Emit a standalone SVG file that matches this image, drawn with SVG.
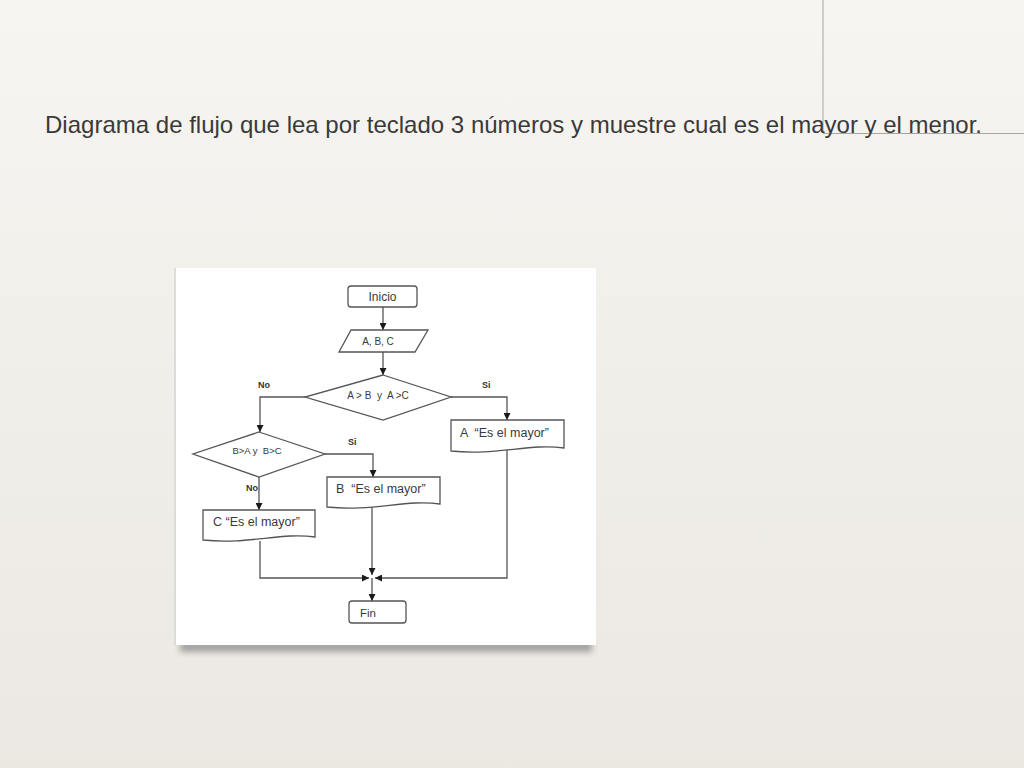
<svg xmlns="http://www.w3.org/2000/svg" width="1024" height="768" viewBox="0 0 1024 768">
  <defs>
    <linearGradient id="bg" x1="0" y1="0" x2="0" y2="1">
      <stop offset="0" stop-color="#f7f5f1"/>
      <stop offset="1" stop-color="#ebe8e2"/>
    </linearGradient>
    <filter id="blur" x="-10%" y="-50%" width="120%" height="200%">
      <feGaussianBlur stdDeviation="3"/>
    </filter>
    <marker id="ah" viewBox="0 0 10 10" refX="10" refY="5" markerWidth="8" markerHeight="7" markerUnits="userSpaceOnUse" orient="auto">
      <path d="M0,0 L10,5 L0,10 Z" fill="#1a1a1a"/>
    </marker>
    <style>
      .ln { fill: none; stroke: #555; stroke-width: 1.3; }
      .shape { fill: #fff; stroke: #555; stroke-width: 1.3; }
      .t { font-family: "Liberation Sans", Arial, sans-serif; fill: #3a3a3a; }
      .lbl { font-family: "Liberation Sans", Arial, sans-serif; fill: #333; font-weight: bold; font-size: 9px; }
    </style>
  </defs>

  <rect x="0" y="0" width="1024" height="768" fill="url(#bg)"/>

  <!-- corner guide lines -->
  <line x1="823" y1="0" x2="823" y2="133" stroke="#a8a6a2" stroke-width="1"/>
  <line x1="823" y1="133.5" x2="1024" y2="133.5" stroke="#a8a6a2" stroke-width="1"/>

  <text x="45" y="133" class="t" font-size="24" fill="#404040" textLength="937" lengthAdjust="spacing">Diagrama de flujo que lea por teclado 3 números y muestre cual es el mayor y el menor.</text>

  <!-- photo frame -->
  <rect x="180" y="641" width="412" height="11" fill="#888" filter="url(#blur)" opacity="0.75"/>
  <rect x="174" y="268" width="4" height="377" fill="#d6d4d0" opacity="0.7"/>
  <rect x="176" y="268" width="420" height="377" fill="#fff"/>

  <!-- connectors -->
  <g id="connectors">
    <line class="ln" x1="383" y1="307" x2="383" y2="330" marker-end="url(#ah)"/>
    <line class="ln" x1="383" y1="352" x2="383" y2="375" marker-end="url(#ah)"/>
    <polyline class="ln" points="305,397 260,397 260,432" marker-end="url(#ah)"/>
    <polyline class="ln" points="451,397 507,397 507,420" marker-end="url(#ah)"/>
    <polyline class="ln" points="325,454 373,454 373,477" marker-end="url(#ah)"/>
    <line class="ln" x1="259" y1="477" x2="259" y2="510" marker-end="url(#ah)"/>
    <polyline class="ln" points="260,541 260,578 369,578" marker-end="url(#ah)"/>
    <line class="ln" x1="372" y1="507" x2="372" y2="575" marker-end="url(#ah)"/>
    <polyline class="ln" points="507,450 507,578 375,578" marker-end="url(#ah)"/>
    <line class="ln" x1="372" y1="578" x2="372" y2="601" marker-end="url(#ah)"/>
  </g>

  <g id="inicio">
    <rect class="shape" x="348" y="286" width="69" height="21" rx="3"/>
    <text class="t" x="382.5" y="301" font-size="12" text-anchor="middle">Inicio</text>
  </g>

  <g id="entrada">
    <polygon class="shape" points="351,330 428,330 415,352 339,352"/>
    <text class="t" x="378" y="345" font-size="10" text-anchor="middle">A, B, C</text>
  </g>

  <g id="decision1">
    <polygon class="shape" points="383,375 451,397 383,420 305,397"/>
    <text class="t" x="378" y="399" font-size="10" text-anchor="middle" xml:space="preserve">A &gt; B  y  A &gt;C</text>
    <text class="lbl" x="258" y="388">No</text>
    <text class="lbl" x="482" y="388">Si</text>
  </g>

  <g id="decision2">
    <polygon class="shape" points="259,432 325,454 259,477 193,454"/>
    <text class="t" x="257" y="454" font-size="9.5" text-anchor="middle" xml:space="preserve">B&gt;A y  B&gt;C</text>
    <text class="lbl" x="348" y="445">Si</text>
    <text class="lbl" x="246" y="491">No</text>
  </g>

  <g id="salidaA">
    <path class="shape" d="M451,420 H564 V448 C530,443 496,456 451,451 Z"/>
    <text class="t" x="460" y="437" font-size="12.5" xml:space="preserve">A  “Es el mayor”</text>
  </g>

  <g id="salidaB">
    <path class="shape" d="M327,477 H440 V504 C406,499 372,512 327,507 Z"/>
    <text class="t" x="336" y="493" font-size="12.5" xml:space="preserve">B  “Es el mayor”</text>
  </g>

  <g id="salidaC">
    <path class="shape" d="M203,510 H315 V537 C281,532 248,545 203,540 Z"/>
    <text class="t" x="213" y="526" font-size="12.5">C “Es el mayor”</text>
  </g>

  <g id="fin">
    <rect class="shape" x="349" y="601" width="57" height="22" rx="3"/>
    <text class="t" x="360" y="617" font-size="11.5">Fin</text>
  </g>
</svg>
